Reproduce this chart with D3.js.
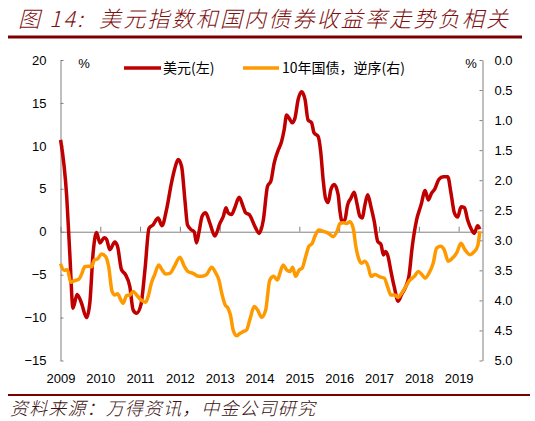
<!DOCTYPE html>
<html><head><meta charset="utf-8">
<script src="https://cdn.jsdelivr.net/npm/d3@7"></script>
<style>
body{margin:0;background:#fff;}
svg{display:block;}
</style></head>
<body><svg id="c" width="535" height="421"></svg>
<script>
// ---- data ----
const titleText = "图 14:  美元指数和国内债券收益率走势负相关";
const sourceText = "资料来源：万得资讯，中金公司研究";
const legendLabels = ["美元(左)", "10年国债，逆序(右)"];
const yearLabels = [2009,2010,2011,2012,2013,2014,2015,2016,2017,2018,2019];
const leftTicks = [20,15,10,5,0,-5,-10,-15];
const rightTicks = [0,0.5,1,1.5,2,2.5,3,3.5,4,4.5,5];

const usdDates = ["2009-01-02","2009-02-27","2009-03-27","2009-04-26","2009-06-02","2009-07-12","2009-08-28","2009-09-27","2009-10-27","2009-11-28","2009-12-28",
"2010-02-07","2010-02-28","2010-03-29","2010-05-14","2010-06-08","2010-07-14","2010-08-20","2010-09-29","2010-10-29","2010-11-30",
"2011-01-09","2011-02-15","2011-03-24","2011-04-30","2011-06-15","2011-07-21","2011-09-01","2011-10-16","2011-11-16","2011-12-16",
"2012-01-17","2012-02-16","2012-03-11","2012-04-17","2012-05-11","2012-06-02","2012-06-25","2012-07-23","2012-08-24","2012-10-02","2012-11-17",
"2013-01-03","2013-02-03","2013-02-27","2013-03-18","2013-04-19","2013-05-19","2013-06-28","2013-08-04","2013-08-26","2013-09-28","2013-11-20","2013-12-29",
"2014-02-05","2014-03-15","2014-04-15","2014-05-15","2014-06-21","2014-07-22","2014-08-15","2014-09-06","2014-09-30","2014-10-27","2014-11-21","2014-12-21",
"2015-01-22","2015-02-22","2015-03-22","2015-04-23","2015-05-16","2015-06-22","2015-07-16","2015-08-07","2015-08-29","2015-09-22","2015-10-17","2015-11-17","2015-12-23",
"2016-01-08","2016-01-29","2016-02-23","2016-03-18","2016-04-18","2016-05-18","2016-06-12","2016-07-09","2016-07-30","2016-08-24","2016-09-19","2016-10-19","2016-11-18","2016-12-19",
"2017-01-19","2017-02-10","2017-03-02","2017-03-25","2017-04-20","2017-05-20","2017-06-26","2017-07-27","2017-09-03","2017-10-02","2017-11-02","2017-12-12",
"2018-01-21","2018-02-28","2018-03-28","2018-04-28","2018-05-28","2018-07-04","2018-08-13","2018-09-23","2018-10-23","2018-11-23","2018-12-24",
"2019-01-23","2019-02-23","2019-03-24","2019-05-01","2019-05-24","2019-06-24","2019-07-15"];
const usdValues = [10.7,4.1,-2.5,-8.9,-7.3,-8.3,-10.0,-8.3,-2.5,-0.1,-1.3,
-0.7,-0.9,-2.1,-1.2,-1.7,-4.4,-5.0,-6.4,-9.1,-9.5,
-8.5,-4.4,0.4,0.8,1.6,0.7,2.6,5.7,7.4,8.4,
7.6,3.7,0.8,0.2,0.0,-1.3,0.0,1.8,2.2,1.0,-0.5,
1.0,1.8,2.8,2.2,2.0,2.8,4.0,2.9,2.2,2.0,0.6,-0.2,
1.4,5.3,5.9,8.0,9.5,10.5,11.9,13.6,13.2,12.7,13.2,15.4,
16.3,15.4,13.0,12.7,11.5,11.1,9.3,6.1,3.9,3.4,4.9,5.5,4.3,
2.4,1.2,1.4,3.1,3.9,4.6,3.3,1.8,1.6,3.1,4.3,2.9,1.2,-1.1,
-1.5,-2.7,-2.3,-2.9,-4.6,-6.4,-8.1,-7.3,-6.4,-5.2,-1.7,1.4,
3.1,4.8,3.7,4.5,5.0,6.1,6.4,6.4,4.5,2.2,1.7,
2.9,2.8,1.4,0.2,-0.2,0.7,0.3];

const cgbDates = ["2009-01-01","2009-02-04","2009-03-06","2009-04-05","2009-05-12","2009-06-18","2009-07-12","2009-08-12","2009-09-12","2009-10-13","2009-11-06","2009-12-07",
"2010-01-13","2010-02-19","2010-03-19","2010-04-19","2010-05-14","2010-06-08","2010-07-08","2010-07-29","2010-08-30","2010-09-29","2010-10-29","2010-11-30",
"2011-01-09","2011-02-21","2011-03-15","2011-04-15","2011-05-15","2011-06-21","2011-07-21","2011-08-22","2011-10-01","2011-11-10",
"2012-01-01","2012-02-10","2012-03-16","2012-05-01","2012-06-23","2012-07-18","2012-09-02","2012-10-18","2012-11-24","2012-12-24",
"2013-01-19","2013-02-18","2013-03-18","2013-04-12","2013-05-03","2013-06-04","2013-07-04","2013-08-04","2013-09-04","2013-10-04","2013-11-13","2013-12-14",
"2014-01-20","2014-02-26","2014-04-05","2014-05-11","2014-06-15","2014-07-06","2014-08-06","2014-09-06","2014-10-06","2014-10-31","2014-11-28","2014-12-28",
"2015-01-28","2015-02-28","2015-03-29","2015-04-29","2015-05-29","2015-06-29","2015-08-07","2015-09-22","2015-11-08","2015-12-17",
"2016-01-08","2016-02-09","2016-03-09","2016-04-09","2016-05-09","2016-06-02","2016-06-18","2016-07-25","2016-08-24","2016-09-24","2016-10-19","2016-11-25",
"2017-01-10","2017-02-19","2017-03-20","2017-04-20","2017-05-26","2017-06-26","2017-07-27","2017-09-03","2017-10-12","2017-11-21","2017-12-27",
"2018-01-28","2018-02-28","2018-04-03","2018-05-13","2018-06-13","2018-07-22","2018-08-22","2018-09-28","2018-11-04","2018-12-14",
"2019-01-23","2019-03-01","2019-04-15","2019-05-24","2019-06-24","2019-07-15"];
const cgbValues = [3.39,3.50,3.49,3.70,3.67,3.65,3.57,3.44,3.43,3.44,3.33,3.31,
3.23,3.27,3.44,3.85,3.91,3.89,3.99,4.05,3.92,3.91,3.85,3.91,
3.99,4.03,3.94,3.71,3.57,3.41,3.49,3.56,3.55,3.44,
3.28,3.43,3.52,3.55,3.60,3.60,3.57,3.45,3.54,3.66,
3.88,4.07,4.13,4.27,4.49,4.59,4.55,4.52,4.49,4.32,4.10,4.16,
4.28,4.16,3.66,3.60,3.66,3.55,3.41,3.49,3.52,3.45,3.60,3.50,
3.46,3.27,3.10,3.05,2.91,2.83,2.85,2.88,2.94,2.83,
2.72,2.71,2.72,2.69,2.80,3.10,3.24,3.38,3.35,3.44,3.60,3.57,
3.61,3.63,3.77,3.91,3.91,3.95,3.88,3.77,3.66,3.60,3.52,
3.57,3.63,3.55,3.38,3.13,3.10,3.16,3.35,3.30,3.21,
3.05,3.16,3.24,3.19,3.10,2.85];

// ---- drawing ----
const parse = d3.timeParse("%Y-%m-%d");
const svg = d3.select("#c");
const plotL = 60.5, plotR = 482.5, plotT = 60, plotB = 360.5;
const axisColor = "#808080";
const red = "#C00000", orange = "#FF9900", maroon = "#7a0000";

const x = d3.scaleTime().domain([new Date(2009,0,1), new Date(2019,7,8)]).range([plotL, plotR]);
const yL = d3.scaleLinear().domain([-15,20]).range([plotB, plotT]);
const yR = d3.scaleLinear().domain([0,5]).range([plotT, plotB]);

// title
svg.append("text").attr("x", 18).attr("y", 27)
  .attr("font-family", "'Noto Sans CJK SC', sans-serif").attr("font-size", 22).attr("font-weight", 300)
  .attr("font-style", "italic").attr("fill", "#801010").attr("xml:space","preserve")
  .attr("textLength", 490).attr("lengthAdjust", "spacing").text(titleText);
svg.append("line").attr("x1", 8).attr("x2", 522).attr("y1", 37).attr("y2", 37)
  .attr("stroke", maroon).attr("stroke-width", 3);

// bottom rule and source
svg.append("line").attr("x1", 8).attr("x2", 530).attr("y1", 395).attr("y2", 395)
  .attr("stroke", maroon).attr("stroke-width", 2);
svg.append("text").attr("x", 10).attr("y", 415)
  .attr("font-family", "'Noto Sans CJK SC', sans-serif").attr("font-size", 18).attr("font-weight", 300)
  .attr("font-style", "italic").attr("fill", "#3a1010")
  .attr("textLength", 305).attr("lengthAdjust", "spacing").text(sourceText);

const tickFont = "'Liberation Sans', Arial, sans-serif";
function styleAxis(g){
  g.selectAll("path,line").attr("stroke", axisColor).attr("stroke-width", 1);
  g.selectAll("text").attr("font-family", tickFont).attr("font-size", 13).attr("fill", "#000");
}

// left axis
svg.append("g").attr("transform", `translate(${plotL},0)`)
  .call(d3.axisLeft(yL).tickValues(leftTicks).tickSizeInner(-3).tickSizeOuter(0).tickPadding(14).tickFormat(d3.format("d")))
  .call(styleAxis);
// right axis
svg.append("g").attr("transform", `translate(${plotR},0)`)
  .call(d3.axisRight(yR).tickValues(rightTicks).tickSizeInner(-3).tickSizeOuter(0).tickPadding(12).tickFormat(d3.format(".1f")))
  .call(styleAxis);
// zero line with year ticks
const yearDates = yearLabels.map(y => new Date(y,0,1));
svg.append("g").attr("transform", `translate(0,${yL(0)})`)
  .call(d3.axisTop(x).tickValues(yearDates).tickSizeInner(5).tickSizeOuter(0).tickFormat(""))
  .call(styleAxis);
// year labels at bottom
const xb = svg.append("g").attr("transform", `translate(0,${plotB})`)
  .call(d3.axisBottom(x).tickValues(yearDates).tickSize(0).tickPadding(13).tickFormat(d3.timeFormat("%Y")))
  .call(styleAxis);
xb.select(".domain").remove();

// % units
svg.append("text").attr("x", 84).attr("y", 68).attr("text-anchor","middle")
  .attr("font-family", tickFont).attr("font-size", 13).text("%");
svg.append("text").attr("x", 471).attr("y", 68).attr("text-anchor","middle")
  .attr("font-family", tickFont).attr("font-size", 13).text("%");

// lines
const usd = usdDates.map((d,i)=>({d:parse(d), v:usdValues[i]}));
const cgb = cgbDates.map((d,i)=>({d:parse(d), v:cgbValues[i]}));
const lineL = d3.line().x(p=>x(p.d)).y(p=>yL(p.v)).curve(d3.curveMonotoneX);
const lineR = d3.line().x(p=>x(p.d)).y(p=>yR(p.v)).curve(d3.curveMonotoneX);
svg.append("path").datum(usd).attr("d", lineL).attr("fill","none")
  .attr("stroke", red).attr("stroke-width", 3.5).attr("stroke-linejoin","round");
svg.append("path").datum(cgb).attr("d", lineR).attr("fill","none")
  .attr("stroke", orange).attr("stroke-width", 3.5).attr("stroke-linejoin","round");

// legend
const legFont = "'Noto Sans CJK SC', serif";
const leg = [{c:red, x1:124, x2:161, tx:163, t:legendLabels[0]}, {c:orange, x1:243, x2:279, tx:282, t:legendLabels[1]}];
leg.forEach(l=>{
  svg.append("line").attr("x1", l.x1).attr("x2", l.x2).attr("y1", 68).attr("y2", 68)
    .attr("stroke", l.c).attr("stroke-width", 3.5);
  svg.append("text").attr("x", l.tx).attr("y", 73).attr("font-family", legFont)
    .attr("font-size", 14).attr("fill", "#000").text(l.t);
});
</script>
</body></html>
